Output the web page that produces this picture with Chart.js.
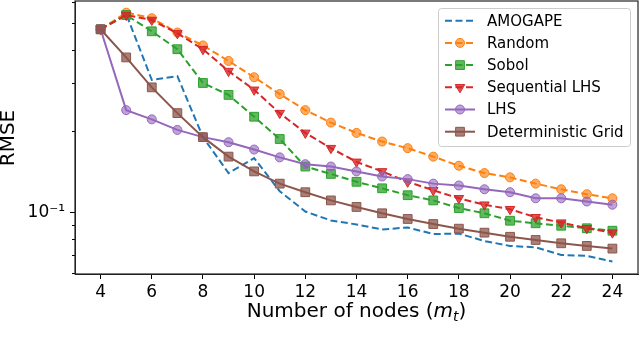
<!DOCTYPE html>
<html>
<head>
<meta charset="utf-8">
<script src="https://cdn.jsdelivr.net/npm/chart.js@4/dist/chart.umd.min.js"></script>
<style>
  html, body { margin: 0; padding: 0; background: #fff; }
  #wrap { width: 640px; height: 347px; }
</style>
</head>
<body>
<div id="wrap"><canvas id="chart" width="640" height="347"></canvas></div>
<script>
// data
const nodes = [4, 5, 6, 7, 8, 9, 10, 11, 12, 13, 14, 15, 16, 17, 18, 19, 20, 21, 22, 23, 24];
const amogape = [0.475, 0.541, 0.309, 0.319, 0.190, 0.140, 0.159, 0.120, 0.101, 0.0936, 0.0905, 0.0867, 0.0882, 0.0834, 0.0837, 0.0786, 0.0754, 0.0745, 0.0698, 0.0693, 0.0660];
const random = [0.475, 0.547, 0.522, 0.462, 0.414, 0.363, 0.316, 0.274, 0.239, 0.215, 0.197, 0.183, 0.173, 0.161, 0.149, 0.140, 0.135, 0.128, 0.122, 0.117, 0.113];
const sobol = [0.475, 0.536, 0.467, 0.401, 0.301, 0.272, 0.226, 0.187, 0.148, 0.139, 0.130, 0.123, 0.116, 0.111, 0.104, 0.0995, 0.0934, 0.0914, 0.0895, 0.0876, 0.0858];
const seqLhs = [0.475, 0.536, 0.514, 0.459, 0.401, 0.333, 0.284, 0.233, 0.197, 0.173, 0.154, 0.142, 0.130, 0.121, 0.113, 0.107, 0.103, 0.0962, 0.0919, 0.0876, 0.0844];
const lhs = [0.475, 0.239, 0.221, 0.202, 0.190, 0.182, 0.171, 0.160, 0.151, 0.148, 0.142, 0.136, 0.133, 0.128, 0.126, 0.122, 0.119, 0.113, 0.113, 0.110, 0.107];
const detGrid = [0.475, 0.374, 0.290, 0.233, 0.190, 0.161, 0.142, 0.128, 0.119, 0.111, 0.105, 0.0995, 0.0948, 0.0908, 0.0873, 0.0844, 0.0815, 0.0793, 0.0771, 0.0754, 0.0737];

const xTicks = [4, 6, 8, 10, 12, 14, 16, 18, 20, 22, 24];
const yTicks = [0.06, 0.07, 0.08, 0.09, 0.1, 0.2, 0.3, 0.4, 0.5, 0.6];
const yMajor = [0.1];

const FONT = "'DejaVu Sans', 'Liberation Sans', sans-serif";

function toPoints(vals) {
    return nodes.map((n, i) => ({ x: n, y: vals[i] }));
}

function series(label, vals, color, fill, dashed, pointStyle, radius, rotation) {
    return {
        label: label,
        data: toPoints(vals),
        borderColor: color,
        backgroundColor: fill,
        borderWidth: 2,
        borderDash: dashed ? [7, 3.5] : [],
        pointStyle: pointStyle,
        pointRadius: radius,
        pointRotation: rotation || 0,
        pointBackgroundColor: fill,
        pointBorderColor: color,
        pointBorderWidth: 1,
        tension: 0
    };
}

const datasets = [
    series('AMOGAPE', amogape, '#1f77b4', '#1f77b4', true, false, 0),
    series('Random', random, '#ff7f0e', 'rgba(255,127,14,0.65)', true, 'circle', 4.5),
    series('Sobol', sobol, '#2ca02c', 'rgba(44,160,44,0.75)', true, 'rect', 6.2),
    series('Sequential LHS', seqLhs, '#d62728', 'rgba(214,39,40,0.8)', true, 'triangle', 5.5, 180),
    series('LHS', lhs, '#9467bd', 'rgba(148,103,189,0.6)', false, 'circle', 4.5),
    series('Deterministic Grid', detGrid, '#8c564b', 'rgba(140,86,75,0.75)', false, 'rect', 6.2)
];
// matplotlib draws later series on top
datasets.forEach((d, i) => { d.order = datasets.length - 1 - i; });

// frame, titles, short minor ticks and the legend box
const decorations = {
    id: 'decorations',
    afterDraw(chart) {
        const ctx = chart.ctx;
        const a = chart.chartArea;
        const ys = chart.scales.y;
        ctx.save();

        // minor ticks on log axis
        ctx.strokeStyle = '#000';
        ctx.lineWidth = 1;
        yTicks.forEach(v => {
            if (yMajor.includes(v)) return;
            const py = Math.round(ys.getPixelForValue(v)) + 0.5;
            ctx.beginPath();
            ctx.moveTo(a.left - 3, py);
            ctx.lineTo(a.left, py);
            ctx.stroke();
        });

        // frame
        ctx.strokeStyle = '#222';
        ctx.lineWidth = 1.2;
        ctx.strokeRect(a.left, a.top, a.right - a.left, a.bottom - a.top);

        // y title
        ctx.fillStyle = '#000';
        ctx.font = '20px ' + FONT;
        ctx.textAlign = 'center';
        ctx.textBaseline = 'middle';
        ctx.translate(9, 138);
        ctx.rotate(-Math.PI / 2);
        ctx.fillText('RMSE', 0, 0);
        ctx.setTransform(1, 0, 0, 1, 0, 0);

        // x title with italic m_t
        const parts = [
            { t: 'Number of nodes (', f: '20px ' + FONT, dy: 0 },
            { t: 'm', f: 'italic 20px ' + FONT, dy: 0 },
            { t: 't', f: 'italic 14px ' + FONT, dy: 4 },
            { t: ')', f: '20px ' + FONT, dy: 0 }
        ];
        let total = 0;
        parts.forEach(p => { ctx.font = p.f; p.w = ctx.measureText(p.t).width; total += p.w; });
        let x = (a.left + a.right) / 2 - total / 2;
        const base = 317;
        ctx.textAlign = 'left';
        ctx.textBaseline = 'alphabetic';
        parts.forEach(p => {
            ctx.font = p.f;
            ctx.fillText(p.t, x, base + p.dy);
            x += p.w;
        });

        // legend
        const lx = 438, ly = 8, lw = 192, lh = 138;
        ctx.beginPath();
        ctx.roundRect(lx + 0.5, ly + 0.5, lw, lh, 3);
        ctx.fillStyle = 'rgba(255,255,255,0.85)';
        ctx.fill();
        ctx.strokeStyle = '#cccccc';
        ctx.lineWidth = 1;
        ctx.stroke();

        chart.data.datasets.forEach((d, i) => {
            const cy = 20.7 + i * 22.2;
            ctx.save();
            ctx.strokeStyle = d.borderColor;
            ctx.lineWidth = 2;
            ctx.setLineDash(d.borderDash);
            ctx.beginPath();
            ctx.moveTo(445, cy);
            ctx.lineTo(475, cy);
            ctx.stroke();
            ctx.restore();
            if (d.pointStyle) {
                ctx.save();
                ctx.fillStyle = d.pointBackgroundColor;
                ctx.strokeStyle = d.pointBorderColor;
                ctx.lineWidth = d.pointBorderWidth;
                Chart.helpers.drawPoint(ctx, {
                    pointStyle: d.pointStyle,
                    rotation: d.pointRotation,
                    radius: d.pointRadius,
                    borderWidth: d.pointBorderWidth
                }, 460, cy);
                ctx.restore();
            }
            ctx.fillStyle = '#000';
            ctx.font = '15px ' + FONT;
            ctx.textAlign = 'left';
            ctx.textBaseline = 'middle';
            ctx.fillText(d.label, 487, cy + 1);
        });

        ctx.restore();
    }
};

new Chart(document.getElementById('chart'), {
    type: 'line',
    data: { datasets: datasets },
    options: {
        responsive: false,
        animation: false,
        devicePixelRatio: 1,
        layout: { autoPadding: false, padding: { left: 0, right: 2, top: 1, bottom: 0 } },
        plugins: {
            legend: { display: false },
            tooltip: { enabled: false }
        },
        scales: {
            x: {
                type: 'linear',
                min: 3,
                max: 25,
                afterBuildTicks: scale => { scale.ticks = xTicks.map(v => ({ value: v })); },
                afterFit: scale => {
                    scale.height = 73;
                    scale.paddingLeft = 0;
                    scale.paddingRight = 0;
                },
                grid: { drawOnChartArea: false, tickLength: 5, color: '#000', tickColor: '#000' },
                border: { display: true, color: '#222', width: 1 },
                ticks: {
                    color: '#000',
                    padding: 3,
                    maxRotation: 0,
                    autoSkip: false,
                    font: { family: FONT, size: 17 },
                    callback: v => String(v)
                }
            },
            y: {
                type: 'logarithmic',
                min: 0.0594,
                max: 0.604,
                afterBuildTicks: scale => { scale.ticks = yTicks.map(v => ({ value: v })); },
                afterFit: scale => {
                    scale.width = 75;
                    scale.paddingTop = 0;
                    scale.paddingBottom = 0;
                },
                grid: {
                    drawOnChartArea: false,
                    tickLength: 5,
                    tickColor: c => (c.tick && yMajor.includes(c.tick.value)) ? '#000' : 'rgba(0,0,0,0)'
                },
                border: { display: true, color: '#222', width: 1 },
                ticks: {
                    color: '#000',
                    padding: 5,
                    autoSkip: false,
                    font: { family: FONT, size: 17 },
                    callback: v => (v === 0.1 ? '10\u207B\u00B9' : '')
                }
            }
        }
    },
    plugins: [decorations]
});
</script>
</body>
</html>
